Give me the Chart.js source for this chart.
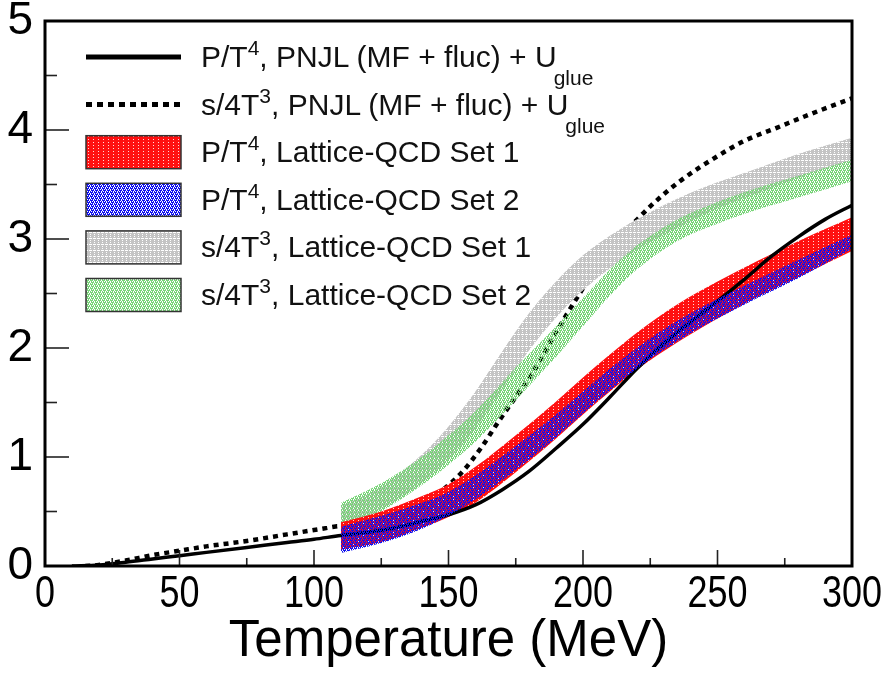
<!DOCTYPE html>
<html>
<head>
<meta charset="utf-8">
<script src="https://cdn.jsdelivr.net/npm/chart.js@4.4.1/dist/chart.umd.min.js"></script>
<style>
  html, body { margin: 0; padding: 0; background: #ffffff; }
  #wrap { position: relative; width: 885px; height: 673px; }
  #legend { position: absolute; left: 0; top: 0; width: 885px; height: 673px; pointer-events: none;
            font-family: 'Liberation Sans', Arial, sans-serif; font-size: 30px; color: #111; }
  .row { position: absolute; left: 201px; height: 30px; line-height: 30px; white-space: nowrap; }
  .sp { font-size: 21px; vertical-align: 12px; line-height: 0; }
  .sb { font-size: 21px; vertical-align: -18px; line-height: 0; margin-left: -3px; }
</style>
</head>
<body>
<div id="wrap">
  <canvas id="c" width="885" height="673"></canvas>
  <div id="legend"></div>
</div>
<script>
// ---------- data ----------
const solidT = [10,20,30,40,50,60,75,90,100,110,120,130,140,150,160,170,180,190,200,210,220,230,240,250,260,270,280,290,300];
const solidV = [0,0.01,0.035,0.065,0.095,0.125,0.17,0.215,0.245,0.28,0.31,0.35,0.41,0.47,0.56,0.70,0.87,1.08,1.30,1.55,1.81,2.04,2.24,2.43,2.63,2.84,3.02,3.18,3.31];

const dottedT = [15,20,30,40,50,60,75,90,100,110,120,130,140,147,155,162,169,175,181,189,194,200,207,213,219,225,236,250,260,272,285,300];
const dottedV = [0,0.01,0.05,0.10,0.14,0.18,0.23,0.29,0.33,0.37,0.41,0.47,0.56,0.68,0.86,1.08,1.34,1.55,1.76,2.10,2.31,2.55,2.83,3.00,3.15,3.30,3.53,3.76,3.90,4.02,4.15,4.29];

const bandT  = [110,125,140,150,160,175,190,200,210,220,235,250,265,280,300];
const redLo  = [0.15,0.22,0.35,0.45,0.58,0.86,1.17,1.39,1.60,1.80,2.05,2.27,2.47,2.65,2.89];
const redHi  = [0.40,0.50,0.64,0.75,0.91,1.20,1.51,1.73,1.94,2.14,2.40,2.61,2.80,2.98,3.20];
const blueLo = [0.12,0.21,0.34,0.46,0.61,0.88,1.18,1.40,1.61,1.81,2.06,2.27,2.46,2.64,2.91];
const blueHi = [0.36,0.46,0.58,0.68,0.83,1.10,1.39,1.60,1.81,2.00,2.25,2.45,2.63,2.81,3.04];
const greenLo = [0.30,0.50,0.74,0.93,1.14,1.52,1.92,2.20,2.48,2.72,2.98,3.14,3.27,3.38,3.53];
const greenHi = [0.58,0.76,1.00,1.20,1.42,1.82,2.20,2.46,2.72,2.94,3.18,3.34,3.47,3.58,3.73];

const grayT  = [110,125,140,150,160,170,180,190,200,210,220,235,250,265,280,300];
const grayLo = [0.32,0.52,0.76,0.98,1.26,1.62,1.98,2.28,2.53,2.73,2.90,3.10,3.28,3.42,3.56,3.72];
const grayHi = [0.55,0.73,1.02,1.28,1.60,1.97,2.32,2.61,2.85,3.03,3.18,3.37,3.52,3.65,3.78,3.93];

const xTicks = [0,50,100,150,200,250,300];
const yTicks = [0,1,2,3,4,5];
const xTitle = 'Temperature (MeV)';

const legendRows = [
  {kind:'solid',  html:'P/T<span class="sp">4</span>, PNJL (MF + fluc) + U<span class="sb">glue</span>'},
  {kind:'dotted', html:'s/4T<span class="sp">3</span>, PNJL (MF + fluc) + U<span class="sb">glue</span>'},
  {kind:'red',    html:'P/T<span class="sp">4</span>, Lattice-QCD Set 1'},
  {kind:'blue',   html:'P/T<span class="sp">4</span>, Lattice-QCD Set 2'},
  {kind:'gray',   html:'s/4T<span class="sp">3</span>, Lattice-QCD Set 1'},
  {kind:'green',  html:'s/4T<span class="sp">3</span>, Lattice-QCD Set 2'}
];

// ---------- fill patterns ----------
function makeTile(color, mask, gapColor) {
  const h = mask.length, w = mask[0].length;
  const c = document.createElement('canvas');
  c.width = w; c.height = h;
  const g = c.getContext('2d');
  if (gapColor) { g.fillStyle = gapColor; g.fillRect(0, 0, w, h); }
  g.fillStyle = color;
  for (let y = 0; y < h; y++) for (let x = 0; x < w; x++) {
    if (mask[y][x] === '#') g.fillRect(x, y, 1, 1);
  }
  return c;
}
const tiles = {
  red:   makeTile('#ff1010', ['#####', '###.#', '#####', '#####', '###.#', '#####'], '#ffd8d8'),
  blue:  makeTile('#1010f0', ['#.##', '.#.#', '##.#', '#.#.']),
  gray:  makeTile('#c4c4c4', ['##.#', '####', '##.#', '####', '#...', '####'], '#ffffff'),
  green: makeTile('#78d478', ['#.##', '.#.#', '##.#', '#.#.'])
};
const ctx = document.getElementById('c').getContext('2d');
const pat = {};
for (const k in tiles) pat[k] = ctx.createPattern(tiles[k], 'repeat');

function pts(xs, ys) { return xs.map((x, i) => ({x: x, y: ys[i]})); }

function bandHi(xs, ys, p, target) {
  return {data: pts(xs, ys), borderWidth: 0, pointRadius: 0, backgroundColor: p,
          fill: {target: target}, cubicInterpolationMode: 'monotone'};
}
function bandLo(xs, ys) {
  return {data: pts(xs, ys), borderWidth: 0, pointRadius: 0, fill: false,
          cubicInterpolationMode: 'monotone'};
}

const rowY = i => 57 + 47.6 * i;

// ---------- axes decoration (inward ticks, frame, x labels, legend keys) ----------
const frameTicks = {
  id: 'frameTicks',
  afterDraw(chart) {
    const {ctx, chartArea: a, scales: {x, y}} = chart;
    ctx.save();
    ctx.strokeStyle = '#222';
    ctx.lineWidth = 1.6;
    for (let v = 0; v <= 300; v += 25) {
      const px = x.getPixelForValue(v);
      const len = (v % 50 === 0) ? 16 : 8;
      ctx.beginPath(); ctx.moveTo(px, a.bottom); ctx.lineTo(px, a.bottom - len); ctx.stroke();
    }
    for (let v = 0; v <= 5; v += 0.5) {
      const py = y.getPixelForValue(v);
      const len = (Math.abs(v - Math.round(v)) < 1e-9) ? 24 : 12;
      ctx.beginPath(); ctx.moveTo(a.left, py); ctx.lineTo(a.left + len, py); ctx.stroke();
    }
    ctx.strokeStyle = '#000';
    ctx.lineWidth = 3;
    ctx.strokeRect(a.left, a.top, a.right - a.left, a.bottom - a.top);
    // x tick labels (condensed like the original)
    ctx.fillStyle = '#000';
    ctx.font = "45px 'Liberation Sans', Arial";
    ctx.textAlign = 'center';
    ctx.textBaseline = 'alphabetic';
    xTicks.forEach(v => {
      const px = x.getPixelForValue(v);
      ctx.save();
      ctx.translate(px, a.bottom + 41);
      ctx.scale(0.8, 1);
      ctx.fillText(String(v), 0, 0);
      ctx.restore();
    });
    // legend keys
    legendRows.forEach((r, i) => {
      const cy = rowY(i);
      if (r.kind === 'solid' || r.kind === 'dotted') {
        ctx.strokeStyle = '#000';
        ctx.lineWidth = 5;
        ctx.setLineDash(r.kind === 'dotted' ? [6, 5] : []);
        ctx.beginPath(); ctx.moveTo(86, cy); ctx.lineTo(181, cy); ctx.stroke();
        ctx.setLineDash([]);
      } else {
        ctx.fillStyle = pat[r.kind];
        ctx.fillRect(86, cy - 16.5, 95, 33);
        ctx.strokeStyle = '#333';
        ctx.lineWidth = 1.5;
        ctx.strokeRect(86, cy - 16.5, 95, 33);
      }
    });
    ctx.restore();
  }
};

new Chart(ctx, {
  type: 'line',
  data: {
    datasets: [
      bandHi(bandT, blueHi, pat.blue, 1),
      bandLo(bandT, blueLo),
      {data: pts(solidT, solidV), borderColor: '#000', borderWidth: 3.5,
       pointRadius: 0, fill: false, cubicInterpolationMode: 'monotone'},
      bandHi(bandT, redHi, pat.red, 4),
      bandLo(bandT, redLo),
      bandHi(bandT, greenHi, pat.green, 6),
      bandLo(bandT, greenLo),
      bandHi(grayT, grayHi, pat.gray, 8),
      bandLo(grayT, grayLo),
      {data: pts(dottedT, dottedV), borderColor: '#000', borderWidth: 4.5, borderDash: [5, 5],
       pointRadius: 0, fill: false, cubicInterpolationMode: 'monotone'}
    ]
  },
  options: {
    responsive: false,
    animation: false,
    layout: {padding: {left: 0, top: 21, right: 33, bottom: 0}},
    plugins: {legend: {display: false}, tooltip: {enabled: false}},
    scales: {
      x: {
        type: 'linear', min: 0, max: 300,
        grid: {display: false, drawTicks: false},
        border: {display: false},
        afterBuildTicks(s) { s.ticks = xTicks.map(v => ({value: v})); },
        afterFit(s) { s.height = 107; s.paddingLeft = 0; s.paddingRight = 0; },
        ticks: {display: false},
        title: {display: true, text: xTitle, color: '#000', padding: {top: 0, bottom: 0},
                font: {family: "'Liberation Sans', Arial", size: 51}}
      },
      y: {
        type: 'linear', min: 0, max: 5,
        grid: {display: false, drawTicks: false},
        border: {display: false},
        afterBuildTicks(s) { s.ticks = yTicks.map(v => ({value: v})); },
        afterFit(s) { s.width = 45; s.paddingTop = 0; s.paddingBottom = 0; },
        ticks: {color: '#000', padding: 12, autoSkip: false,
                font: {family: "'Liberation Sans', Arial", size: 46}}
      }
    }
  },
  plugins: [frameTicks]
});

// ---------- HTML legend text ----------
const leg = document.getElementById('legend');
legendRows.forEach((r, i) => {
  const row = document.createElement('div');
  row.className = 'row';
  row.style.top = (rowY(i) - 15) + 'px';
  row.innerHTML = r.html;
  leg.appendChild(row);
});
</script>
</body>
</html>
